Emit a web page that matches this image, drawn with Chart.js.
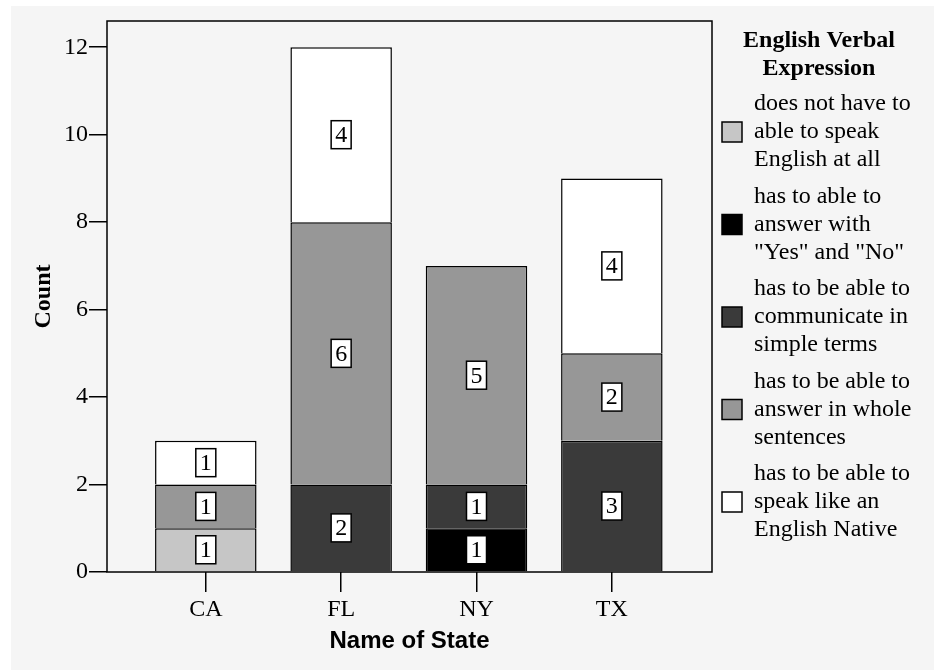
<!DOCTYPE html>
<html>
<head>
<meta charset="utf-8">
<title>English Verbal Expression by State</title>
<script src="https://cdn.jsdelivr.net/npm/chart.js@4.4.0/dist/chart.umd.min.js"></script>
<style>
    html, body { margin: 0; padding: 0; background: #ffffff; }
    #chart { display: block; }
</style>
</head>
<body>
<canvas id="chart" width="934" height="670"></canvas>
<script>
// categories and tick labels
const states = ["CA", "FL", "NY", "TX"];
const yTicks = [0, 2, 4, 6, 8, 10, 12];

// counts per state, one array per answer
const notAtAll = [1, 0, 0, 0];
const yesNo = [0, 0, 1, 0];
const simpleTerms = [0, 2, 1, 3];
const wholeSentences = [1, 6, 5, 2];
const nativeLike = [1, 4, 0, 4];

const legendTitle = ["English Verbal", "Expression"];
const legendLines = [
    ["does not have to", "able to speak", "English at all"],
    ["has to able to", "answer with", "\"Yes\" and \"No\""],
    ["has to be able to", "communicate in", "simple terms"],
    ["has to be able to", "answer in whole", "sentences"],
    ["has to be able to", "speak like an", "English Native"]
];
const seriesColors = ["#c6c6c6", "#000000", "#3a3a3a", "#979797", "#ffffff"];

const serif = "'Liberation Serif', 'Times New Roman', serif";
const sans = "'Liberation Sans', Arial, sans-serif";

const series = [notAtAll, yesNo, simpleTerms, wholeSentences, nativeLike];

// zero counts are left out so no empty segment gets drawn
const datasets = series.map((values, i) => ({
    label: legendLines[i].join(" "),
    data: values.map((v, j) => ({x: j, y: v === 0 ? null : v})),
    backgroundColor: seriesColors[i],
    borderColor: "#000000",
    borderWidth: 1.5,
    categoryPercentage: 1,
    barPercentage: 0.75
}));

// grey panel behind everything
const panelBackground = {
    id: "panelBackground",
    beforeDraw(chart) {
        const ctx = chart.ctx;
        ctx.save();
        ctx.fillStyle = "#ffffff";
        ctx.fillRect(0, 0, chart.width, chart.height);
        ctx.fillStyle = "#f5f5f5";
        ctx.fillRect(11, 6, chart.width - 11, chart.height - 6);
        ctx.restore();
    }
};

// box round the plot area
const plotFrame = {
    id: "plotFrame",
    afterDatasetsDraw(chart) {
        const a = chart.chartArea;
        const ctx = chart.ctx;
        ctx.save();
        ctx.strokeStyle = "#000000";
        ctx.lineWidth = 1.5;
        ctx.strokeRect(a.left, a.top, a.right - a.left, a.bottom - a.top);
        ctx.restore();
    }
};

// count in a little white box in the middle of each segment
const segmentLabels = {
    id: "segmentLabels",
    afterDatasetsDraw(chart) {
        const ctx = chart.ctx;
        ctx.save();
        ctx.font = "24px " + serif;
        ctx.textAlign = "center";
        ctx.textBaseline = "middle";
        chart.data.datasets.forEach((ds, i) => {
            const meta = chart.getDatasetMeta(i);
            meta.data.forEach((bar, j) => {
                const v = ds.data[j].y;
                if (v === null) return;
                const props = bar.getProps(["x", "y", "base"], true);
                const cy = (props.y + props.base) / 2;
                const text = String(v);
                const w = ctx.measureText(text).width + 8;
                const h = 28;
                ctx.fillStyle = "#ffffff";
                ctx.fillRect(props.x - w / 2, cy - h / 2, w, h);
                ctx.strokeStyle = "#000000";
                ctx.lineWidth = 1.5;
                ctx.strokeRect(props.x - w / 2, cy - h / 2, w, h);
                ctx.fillStyle = "#000000";
                ctx.fillText(text, props.x, cy + 1);
            });
        });
        ctx.restore();
    }
};

// legend on the right, with wrapped labels
const sideLegend = {
    id: "sideLegend",
    afterDraw(chart) {
        const ctx = chart.ctx;
        ctx.save();
        ctx.fillStyle = "#000000";
        ctx.textBaseline = "middle";
        ctx.textAlign = "center";
        ctx.font = "bold 24px " + serif;
        ctx.fillText(legendTitle[0], 819, 41);
        ctx.fillText(legendTitle[1], 819, 69);

        ctx.textAlign = "left";
        ctx.font = "24px " + serif;
        chart.data.datasets.forEach((ds, i) => {
            const cy = 132 + i * 92.5;
            ctx.fillStyle = ds.backgroundColor;
            ctx.fillRect(722, cy - 10, 20, 20);
            ctx.strokeStyle = "#000000";
            ctx.lineWidth = 1.5;
            ctx.strokeRect(722, cy - 10, 20, 20);
            ctx.fillStyle = "#000000";
            legendLines[i].forEach((line, k) => {
                ctx.fillText(line, 754, cy + (k - 1) * 28);
            });
        });
        ctx.restore();
    }
};

new Chart(document.getElementById("chart"), {
    type: "bar",
    data: {datasets: datasets},
    options: {
        responsive: false,
        animation: false,
        layout: {padding: {top: 21, right: 222, left: 0, bottom: 0}},
        plugins: {
            legend: {display: false},
            tooltip: {enabled: false}
        },
        scales: {
            x: {
                type: "linear",
                stacked: true,
                offset: false,
                min: -0.73,
                max: 3.74,
                afterBuildTicks(scale) {
                    scale.ticks = states.map((s, i) => ({value: i}));
                },
                afterFit(scale) {
                    scale.height = 98;
                },
                ticks: {
                    color: "#000000",
                    padding: 3,
                    font: {family: serif, size: 24},
                    callback: (v) => states[v]
                },
                grid: {
                    offset: false,
                    drawOnChartArea: false,
                    color: "#000000",
                    lineWidth: 1.5,
                    tickLength: 20
                },
                border: {display: false},
                title: {
                    display: true,
                    text: "Name of State",
                    color: "#000000",
                    font: {family: sans, size: 24, weight: "bold"},
                    padding: {top: 0, bottom: 14}
                }
            },
            y: {
                stacked: true,
                min: 0,
                max: 12.6,
                afterBuildTicks(scale) {
                    scale.ticks = yTicks.map(v => ({value: v}));
                },
                afterFit(scale) {
                    scale.width = 107;
                },
                ticks: {
                    color: "#000000",
                    padding: 1,
                    font: {family: serif, size: 24}
                },
                grid: {
                    drawOnChartArea: false,
                    color: "#000000",
                    lineWidth: 1.5,
                    tickLength: 18
                },
                border: {display: false},
                title: {
                    display: true,
                    text: "Count",
                    color: "#000000",
                    font: {family: serif, size: 24, weight: "bold"},
                    padding: {top: 29, bottom: 0}
                }
            }
        }
    },
    plugins: [panelBackground, plotFrame, segmentLabels, sideLegend]
});
</script>
</body>
</html>
